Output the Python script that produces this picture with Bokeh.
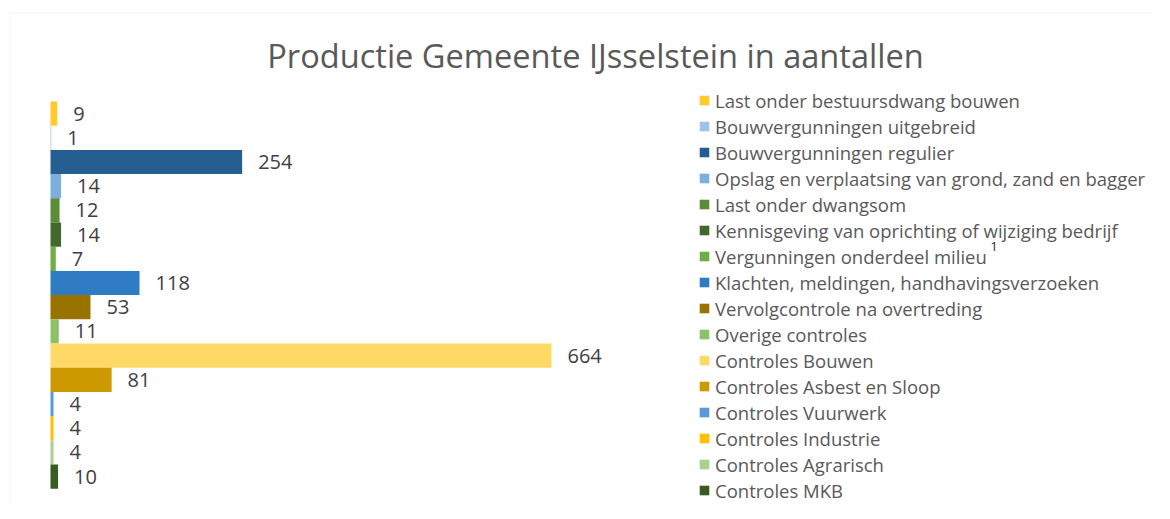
from bokeh.plotting import figure
from bokeh.models import Range1d, Label, ColumnDataSource, BoxAnnotation
from bokeh.embed import file_html
from bokeh.resources import INLINE
from bokeh.core.properties import value

# ---- data -------------------------------------------------------------
categories = [
    "Last onder bestuursdwang bouwen",
    "Bouwvergunningen uitgebreid",
    "Bouwvergunningen regulier",
    "Opslag en verplaatsing van grond, zand en bagger",
    "Last onder dwangsom",
    "Kennisgeving van oprichting of wijziging bedrijf",
    "Vergunningen onderdeel milieu",
    "Klachten, meldingen, handhavingsverzoeken",
    "Vervolgcontrole na overtreding",
    "Overige controles",
    "Controles Bouwen",
    "Controles Asbest en Sloop",
    "Controles Vuurwerk",
    "Controles Industrie",
    "Controles Agrarisch",
    "Controles MKB",
]
values = [9, 1, 254, 14, 12, 14, 7, 118, 53, 11, 664, 81, 4, 4, 4, 10]
colors = [
    "#FFCA2C", "#9DC3E6", "#255E91", "#7CAFDD", "#5B8C3A", "#43682B",
    "#70AD47", "#2F7BC4", "#997300", "#8CC168", "#FFD966", "#CC9900",
    "#5B9BD5", "#FFC000", "#A9D18E", "#3A5A24",
]
title_text = "Productie Gemeente IJsselstein in aantallen"
footnote_mark = "1"

# ---- layout (pixels) --------------------------------------------------
W, H = 1154, 503
bar_left_px = 50          # where value 0 sits
px_per_unit = 0.7545      # horizontal scale
bars_top_px = 101         # top of first bar
row_px = 24.2             # bar pitch

x_start = -bar_left_px / px_per_unit
x_end = x_start + W / px_per_unit
y_top = -0.5 - bars_top_px / row_px
y_bottom = y_top + H / row_px

rows = list(range(len(categories)))
src = ColumnDataSource(dict(
    y=rows,
    value=values,
    color=colors,
    category=categories,
    label=[str(v) for v in values],
))

p = figure(
    width=W, height=H,
    x_range=Range1d(x_start, x_end),
    y_range=Range1d(y_bottom, y_top),
    x_axis_location=None, y_axis_location=None,
    toolbar_location=None, output_backend="svg",
    min_border=0, outline_line_color=None,
    background_fill_color="white", border_fill_color="white",
)
p.grid.visible = False

p.hbar(y="y", left=0, right="value", height=1.0, fill_color="color",
       line_color=None, legend_field="category", source=src)

p.text(x="value", y="y", text="label", x_offset=16, text_baseline="middle",
       text_align="left", text_font=value("Open Sans"), text_font_size="20px",
       text_color="#404040", source=src)

# chart border (only left/top visible in the reference)
p.add_layout(BoxAnnotation(
    left=x_start + 9.5 / px_per_unit, right=x_end + 50,
    top=y_top + 12.5 / row_px, bottom=y_bottom + 5,
    fill_alpha=0, line_color="#D9D9D9", line_width=1, level="underlay"))

p.add_layout(Label(
    x=595, y=448, x_units="screen", y_units="screen", text=title_text,
    text_align="center", text_baseline="middle", text_font="Open Sans",
    text_font_size="32.6px", text_color="#595959"))

# footnote mark next to "Vergunningen onderdeel milieu"
p.add_layout(Label(
    x=990, y=257, x_units="screen", y_units="screen", text=footnote_mark,
    text_align="left", text_baseline="middle", text_font="Open Sans",
    text_font_size="12.5px", text_color="#1A1A1A"))

lg = p.legend[0]
lg.location = (698, 0)
lg.padding = 0
lg.margin = 0
lg.spacing = 0
lg.border_line_color = None
lg.background_fill_alpha = 0
lg.glyph_width = 12
lg.glyph_height = 12
lg.label_height = 26
lg.label_standoff = 5
lg.label_text_font = "Open Sans"
lg.label_text_font_size = "18.5px"
lg.label_text_color = "#595959"

open("out.html", "w").write(file_html(p, INLINE))
